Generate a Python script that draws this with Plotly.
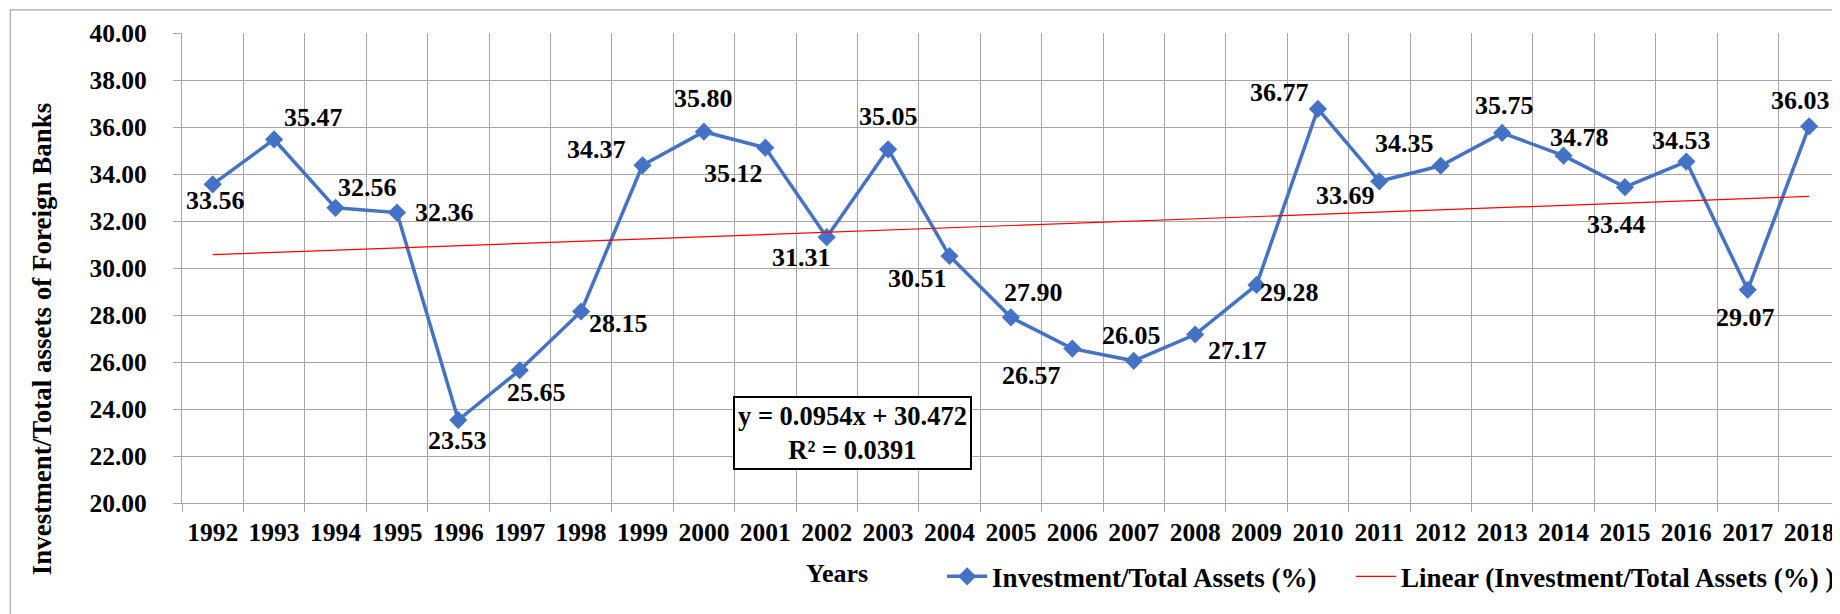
import plotly.graph_objects as go

# --- data -------------------------------------------------------------------
YEARS = [str(y) for y in range(1992, 2019)]
RATIO = [33.56, 35.47, 32.56, 32.36, 23.53, 25.65, 28.15, 34.37, 35.80, 35.12,
         31.31, 35.05, 30.51, 27.90, 26.57, 26.05, 27.17, 29.28, 36.77, 33.69,
         34.35, 35.75, 34.78, 33.44, 34.53, 29.07, 36.03]
TREND_SLOPE = 0.0954
TREND_INTERCEPT = 30.472
TREND_R2 = 0.0391
Y_TICKS = [20, 22, 24, 26, 28, 30, 32, 34, 36, 38, 40]

# label offsets (px) relative to each marker
LABEL_DX = [3, 39, 32, 48, -1, 17, 37, -46, 0, -32, -25, 0, -32, 23, -41,
            -2, 42, 33, -38, -34, -36, 2, 16, -8, -5, -2, -9]
LABEL_DY = [-16, 22, 20, 0, -20, -22, -12, 16, 33, -26, -20, 33, -22, 25, -27,
            25, -16, -8, 16, -14, 22, 27, 18, -37, 21, -28, 26]

# --- style ------------------------------------------------------------------
FONT = "Liberation Serif"
BLUE = "#4472C4"
RED = "#FF0000"
GRID = "#A6A6A6"


def bold(size):
    return dict(family=FONT, size=size, color="black", weight="bold")


trend = [TREND_SLOPE * (i + 1) + TREND_INTERCEPT for i in range(len(YEARS))]

fig = go.Figure()
fig.add_trace(go.Scatter(
    x=YEARS, y=RATIO, mode="lines+markers",
    name="Investment/Total Assets (%)",
    line=dict(color=BLUE, width=3.5),
    marker=dict(symbol="diamond", size=14, color=BLUE),
    legend="legend",
))
fig.add_trace(go.Scatter(
    x=YEARS, y=trend, mode="lines",
    name="Linear (Investment/Total Assets (%) )",
    line=dict(color=RED, width=1.2),
    legend="legend2",
))

# data labels (x given as category index so it isn't read as a number)
for i, (v, dx, dy) in enumerate(zip(RATIO, LABEL_DX, LABEL_DY)):
    fig.add_annotation(
        x=i, y=v, text=f"{v:.2f}", showarrow=False,
        xanchor="center", yanchor="middle",
        xshift=dx, yshift=dy, font=bold(26),
    )

# equation box
fig.add_annotation(
    xref="paper", yref="paper", x=0.4047, y=0.149,
    xanchor="center", yanchor="middle",
    text=f"y = {TREND_SLOPE}x + {TREND_INTERCEPT}<br>R² = {TREND_R2}",
    showarrow=False, align="center",
    bgcolor="white", bordercolor="black", borderwidth=2, borderpad=3,
    font=bold(26.5),
)

# axis titles placed like the original
fig.add_annotation(
    xref="paper", yref="paper", x=-0.0844, y=0.349, textangle=-90,
    xanchor="center", yanchor="middle",
    text="Investment/Total assets of Foreign Banks", showarrow=False,
    font=bold(27),
)
fig.add_annotation(
    xref="paper", yref="paper", x=0.3957, y=-0.149,
    xanchor="center", yanchor="middle",
    text="Years", showarrow=False, font=bold(26),
)

# outer chart border (cropped on right and bottom)
fig.add_shape(
    type="rect", xref="paper", yref="paper",
    x0=-0.1037, x1=1.02, y0=-0.3, y1=1.049,
    line=dict(color=GRID, width=1.2), layer="below",
)

fig.update_xaxes(
    type="category", tickson="boundaries", range=[-0.5, 26.47],
    showgrid=True, gridcolor=GRID, gridwidth=1.2,
    showline=True, linecolor=GRID, linewidth=1.2,
    ticks="outside", ticklen=8, tickcolor=GRID, tickwidth=1.2,
    ticklabelstandoff=6, ticklabeloverflow="allow",
    tickfont=bold(25.5),
)
fig.update_yaxes(
    range=[20, 40], tickvals=Y_TICKS, tickformat=".2f",
    showgrid=True, gridcolor=GRID, gridwidth=1.2, zeroline=False,
    showline=True, linecolor=GRID, linewidth=1.2,
    ticks="outside", ticklen=8, tickcolor=GRID, tickwidth=1.2,
    ticklabelstandoff=21,
    tickfont=bold(25.5),
)

legend_style = dict(
    orientation="h", xanchor="left", y=-0.157, yanchor="middle",
    font=bold(27), itemwidth=40, bgcolor="rgba(0,0,0,0)",
)

# the page body adds an 8px margin, so the figure is 8px smaller each way
fig.update_layout(
    width=1832, height=606,
    margin=dict(l=174, r=0, t=25, b=111),
    paper_bgcolor="white", plot_bgcolor="white",
    showlegend=True,
    legend=dict(x=0.459, **legend_style),
    legend2=dict(x=0.706, **legend_style),
)

fig.write_html("out.html")
